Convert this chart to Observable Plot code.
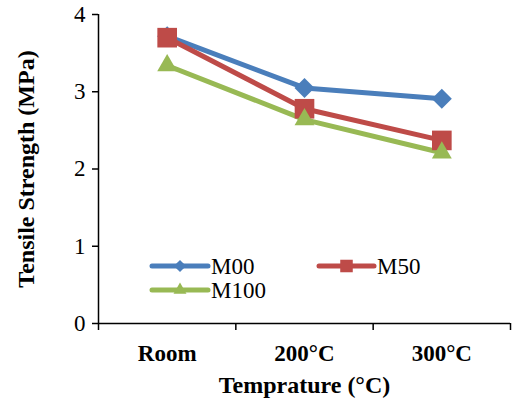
<!DOCTYPE html>
<html><head><meta charset="utf-8">
<script src="https://cdn.jsdelivr.net/npm/d3@7"></script>
<script src="https://cdn.jsdelivr.net/npm/@observablehq/plot@0.6"></script>
<style>
body{margin:0;background:#fff;}
#wrap{position:relative;width:513px;height:402px;font-family:"Liberation Serif","Times New Roman",serif;color:#000;}
#legend{position:absolute;left:0;top:0;pointer-events:none;}
</style></head><body><div id="wrap"></div>
<script>
const categories = ["Room", "200°C", "300°C"];
const series = ["M00", "M50", "M100"];
const M00 = [3.72, 3.05, 2.91];
const M50 = [3.70, 2.78, 2.37];
const M100 = [3.34, 2.64, 2.21];
const yTicks = [0, 1, 2, 3, 4];
const xLabel = "Temprature (°C)";
const yLabel = "Tensile Strength (MPa)";

const colors = ["#4a7ebb", "#be4b48", "#98b954"];
const symbols = ["diamond2", "square2", "triangle2"];
const markerR = [9, 12.5, 9.5];
const values = {M00, M50, M100};
const data = series.flatMap(s => categories.map((c, i) => ({series: s, idx: i, value: values[s][i]})));
const X = d => d.idx + 0.5;

const font = "Liberation Serif";
const chart = Plot.plot({
  width: 513, height: 402,
  marginLeft: 98, marginRight: 3, marginTop: 14, marginBottom: 79,
  style: {fontFamily: "'Liberation Serif', 'Times New Roman', serif", color: "#000", background: "#fff", overflow: "visible"},
  x: {type: "linear", domain: [0, categories.length]},
  y: {domain: [0, 4]},
  color: {domain: series, range: colors},
  marks: [
    Plot.axisY({ticks: yTicks, tickSize: 6, tickPadding: 7, fontSize: 23, fontFamily: font, tickFormat: d3.format("d"), label: null, strokeWidth: 1.5}),
    Plot.axisX({ticks: d3.range(categories.length + 1), tickSize: 7, tickFormat: () => "", label: null, strokeWidth: 1.5}),
    Plot.axisX({ticks: categories.map((c, i) => i + 0.5), tickSize: 0, tickPadding: 21, fontSize: 23, fontWeight: "bold", fontFamily: font,
      tickFormat: d => categories[Math.floor(d)], label: null}),
    Plot.ruleX([0], {strokeWidth: 1.5}),
    Plot.ruleY([0], {strokeWidth: 1.5}),
    Plot.line(data, {x: X, y: "value", z: "series", stroke: "series", strokeWidth: 5, strokeLinejoin: "round", strokeLinecap: "round"}),
    ...series.map((s, k) => Plot.dot(data.filter(d => d.series === s), {x: X, y: "value", symbol: () => symbols[k], fill: colors[k], r: markerR[k], stroke: "none"})),
    Plot.text([xLabel], {text: d => d, frameAnchor: "bottom", textAnchor: "middle", dy: 69, fontSize: 24, fontWeight: "bold", fontFamily: font}),
    Plot.text([yLabel], {text: d => d, frameAnchor: "left", textAnchor: "middle", dx: -72, rotate: -90, fontSize: 24, fontWeight: "bold", fontFamily: font})
  ]
});
const wrap = document.getElementById("wrap");
wrap.appendChild(chart);

// legend overlay
const legendLayout = [
  {x1: 152, x2: 208, y: 266, size: 95},
  {x1: 319, x2: 374, y: 266, size: 200},
  {x1: 152, x2: 208, y: 290, size: 120}
];
const svg = d3.select(wrap).append("svg").attr("id", "legend").attr("width", 513).attr("height", 402);
const symMap = {diamond2: d3.symbolDiamond2, square2: d3.symbolSquare2, triangle2: d3.symbolTriangle2};
series.forEach((s, k) => {
  const L = legendLayout[k];
  const g = svg.append("g");
  g.append("line").attr("x1", L.x1).attr("x2", L.x2).attr("y1", L.y).attr("y2", L.y)
    .attr("stroke", colors[k]).attr("stroke-width", 5).attr("stroke-linecap", "round");
  g.append("path").attr("d", d3.symbol(symMap[symbols[k]], L.size)())
    .attr("transform", `translate(${(L.x1 + L.x2) / 2},${L.y})`).attr("fill", colors[k]);
  g.append("text").attr("x", L.x2 + 3).attr("y", L.y).attr("dy", "0.35em")
    .attr("font-family", font).attr("font-size", 23).attr("fill", "#000").text(s);
});
</script></body></html>
